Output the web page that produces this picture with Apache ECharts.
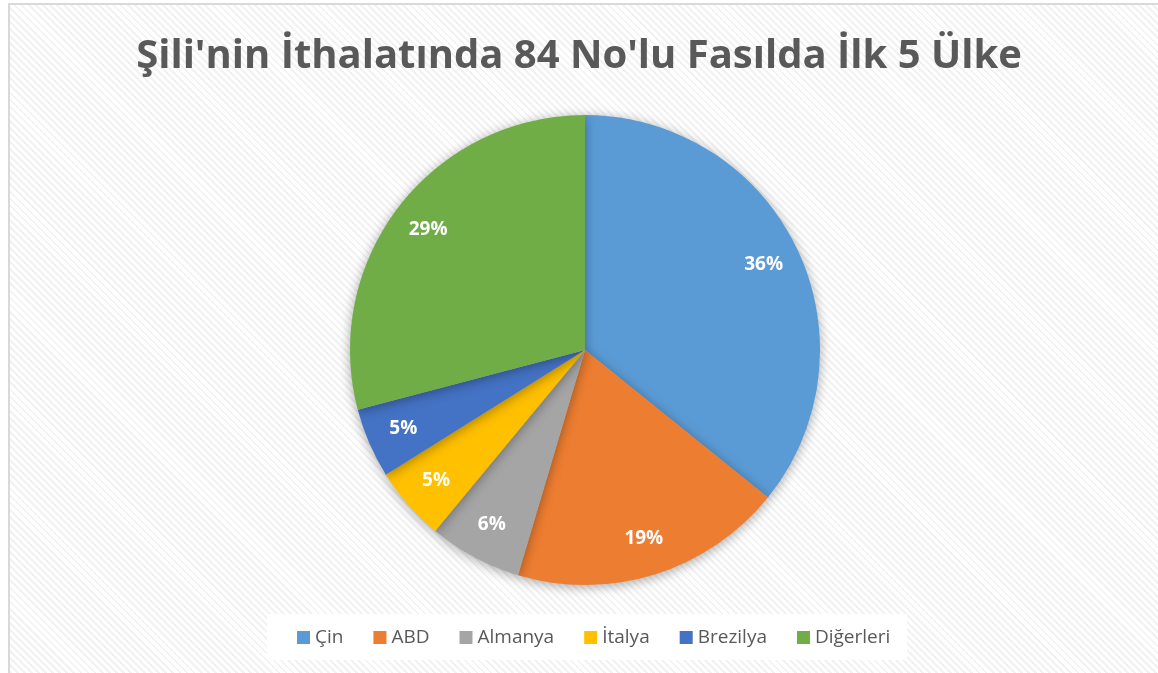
<!DOCTYPE html>
<html>
<head>
<meta charset="utf-8">
<script src="https://cdn.jsdelivr.net/npm/echarts@6/dist/echarts.min.js"></script>
<style>
  html, body { margin: 0; padding: 0; background: #fff; }
  #frame {
    position: absolute; left: 8px; top: 3px; width: 1160px; height: 680px;
    border-left: 2px solid #d9d9d9; border-top: 2px solid #d9d9d9;
    background: repeating-linear-gradient(45deg, #ffffff 0px, #ffffff 3px, #f2f2f2 3px, #f2f2f2 5px);
  }
  #legendBox {
    position: absolute; left: 267px; top: 614px; width: 640px; height: 46px; background: #fff;
  }
  #chart { position: absolute; left: 0; top: 0; width: 1158px; height: 673px; }
</style>
</head>
<body>
<div id="frame"></div>
<div id="legendBox"></div>
<div id="chart"></div>
<script>
// ülkeler ve paylar (%)
const countries = ['Çin', 'ABD', 'Almanya', 'İtalya', 'Brezilya', 'Diğerleri'];
const shares = [35.8, 18.8, 6.4, 5.1, 4.8, 29.1];
const colors = ['#5b9bd5', '#ed7d31', '#a5a5a5', '#ffc000', '#4472c4', '#70ad47'];

const myChart = echarts.init(document.getElementById('chart'));
const pieData = countries.map((name, i) => ({ name, value: shares[i] }));

const option = {
  color: colors,
  textStyle: { fontFamily: 'Open Sans' },
  title: {
    text: "Şili'nin İthalatında 84 No'lu Fasılda İlk 5 Ülke",
    left: 'center',
    top: 32,
    textStyle: { color: '#595959', fontSize: 40, fontWeight: 'bold', fontFamily: 'Open Sans' }
  },
  legend: {
    bottom: 21,
    left: 292,
    itemWidth: 13,
    itemHeight: 13,
    itemGap: 30,
    icon: 'rect',
    textStyle: { color: '#595959', fontSize: 19 },
    data: countries
  },
  series: [
    {
      type: 'pie',
      center: [585, 350],
      radius: [0, 235],
      startAngle: 90,
      clockwise: true,
      label: { show: false },
      labelLine: { show: false },
      itemStyle: { shadowBlur: 12, shadowColor: 'rgba(0,0,0,0.35)', shadowOffsetX: 0, shadowOffsetY: 2 },
      emphasis: { disabled: true },
      data: pieData
    },
    {
      // şeffaf halka: etiketleri dış kenara yakın konumlandırmak için
      type: 'pie',
      center: [585, 350],
      radius: [155, 235],
      startAngle: 90,
      clockwise: true,
      silent: true,
      itemStyle: { color: 'rgba(0,0,0,0)' },
      label: {
        show: true,
        position: 'inside',
        formatter: p => Math.round(p.value) + '%',
        color: '#fff',
        fontWeight: 'bold',
        fontSize: 19
      },
      labelLine: { show: false },
      emphasis: { disabled: true },
      data: pieData
    }
  ]
};
myChart.setOption(option);
</script>
</body>
</html>
